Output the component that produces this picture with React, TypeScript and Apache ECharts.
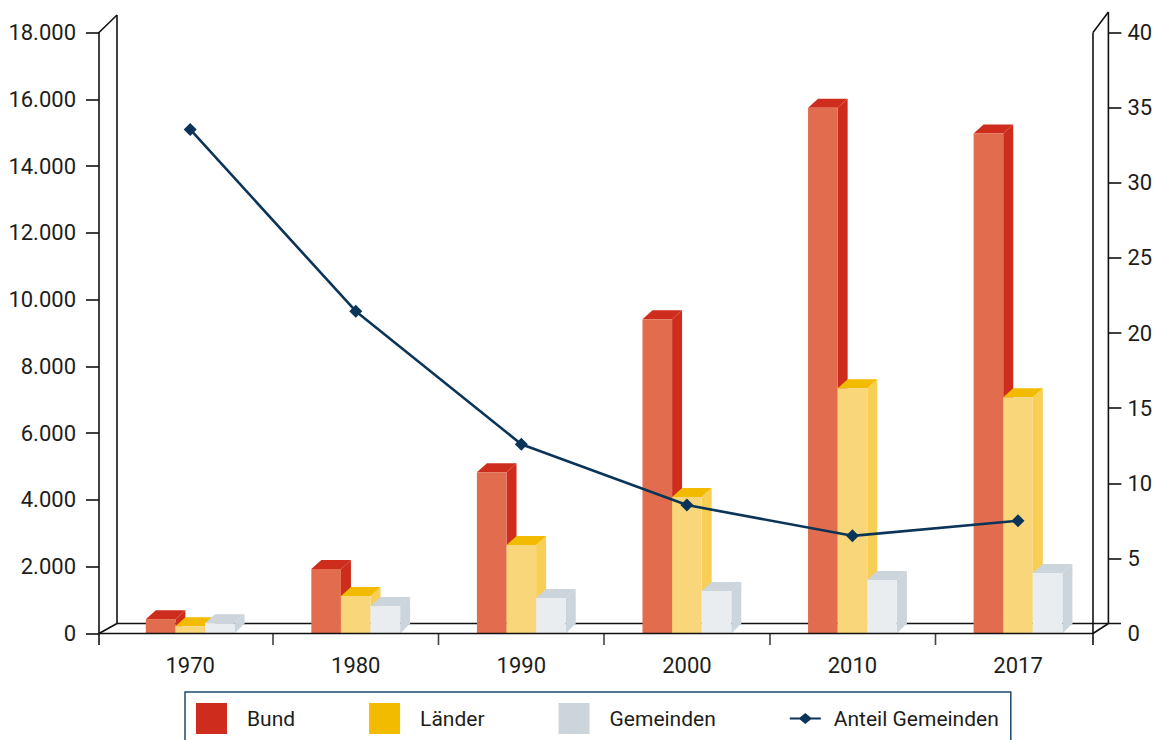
import React, { useEffect, useRef } from "react";
import * as echarts from "echarts";

const years = ["1970", "1980", "1990", "2000", "2010", "2017"];
const bund = [430, 1930, 4830, 9410, 15750, 14975];
const laender = [220, 1120, 2650, 4085, 7345, 7075];
const gemeinden = [310, 820, 1060, 1270, 1600, 1810];
const anteilGemeinden = [33.55, 21.45, 12.6, 8.55, 6.5, 7.5];

const FONT = "Roboto, sans-serif";
const TEXT = "#1d1d1b";
const NAVY = "#0b3558";
const BAR_W = 29.6;
const DEPTH_X = 10;
const DEPTH_Y = 9;

// front face, top face and side face of one extruded column
function barSeries(name: string, values: number[], slot: number, front: string, top: string, side: string) {
  return {
    name,
    type: "custom",
    coordinateSystem: "cartesian2d",
    xAxisIndex: 0,
    yAxisIndex: 0,
    z: 3 + slot,
    itemStyle: { color: top },
    encode: { x: 0, y: 1 },
    data: values.map((v, i) => [i, v]),
    renderItem: (_: any, api: any) => {
      const p = api.coord([api.value(0), api.value(1)]);
      const base = api.coord([api.value(0), 0]);
      const l = p[0] + (slot - 1.5) * BAR_W;
      const r = l + BAR_W;
      const t = p[1];
      const b = base[1];
      return {
        type: "group",
        children: [
          {
            type: "polygon",
            shape: { points: [[r, t], [r + DEPTH_X, t - DEPTH_Y], [r + DEPTH_X, b - DEPTH_Y - 1], [r, b]] },
            style: { fill: side },
          },
          {
            type: "polygon",
            shape: { points: [[l, t], [l + DEPTH_X, t - DEPTH_Y], [r + DEPTH_X, t - DEPTH_Y], [r, t]] },
            style: { fill: top },
          },
          { type: "rect", shape: { x: l, y: t, width: BAR_W, height: b - t }, style: { fill: front } },
        ],
      };
    },
  };
}

// line with a diamond in the middle, padded to a square so it is not stretched
const lineIcon =
  "path://M0 0L0 0M31 31L31 31M0 14.4H10L15.5 9.9L21 14.4H31V16.6H21L15.5 21.1L10 16.6H0Z";

function frameLine(x1: number, y1: number, x2: number, y2: number, stroke = "#111", lineWidth = 1.6, z = 1) {
  return { type: "line", z, shape: { x1, y1, x2, y2 }, style: { stroke, lineWidth } };
}

export default function App() {
  const ref = useRef<HTMLDivElement>(null);

  useEffect(() => {
    const chart = echarts.init(ref.current!, undefined, { renderer: "svg" });
    const tickXs = [99, 273, 438.5, 604, 770, 935.5, 1093];
    chart.setOption({
      animation: false,
      textStyle: { fontFamily: FONT },
      grid: { left: 107.4, width: 993.4, top: 32.5, height: 601 },
      legend: {
        left: 185,
        top: 692,
        orient: "horizontal",
        padding: [11, 12, 11, 11],
        itemGap: 74,
        itemWidth: 31,
        itemHeight: 31,
        borderColor: "#1f4b6e",
        borderWidth: 1.5,
        textStyle: { fontFamily: FONT, fontSize: 21, color: TEXT, padding: [0, 0, 0, 15] },
        data: [
          { name: "Bund", icon: "rect" },
          { name: "Länder", icon: "rect" },
          { name: "Gemeinden", icon: "rect" },
          { name: "Anteil Gemeinden", icon: lineIcon, textStyle: { padding: [0, 0, 0, 8] } },
        ],
      },
      xAxis: {
        type: "category",
        data: years,
        axisLine: { show: false },
        axisTick: { show: false },
        axisLabel: { color: TEXT, fontSize: 22, fontFamily: FONT, margin: 21 },
      },
      yAxis: [
        {
          type: "value",
          min: 0,
          max: 18000,
          interval: 2000,
          offset: 8.4,
          splitLine: { show: false },
          axisLine: { show: true, lineStyle: { color: "#111", width: 1.6 } },
          axisTick: { show: true, length: 13, lineStyle: { color: "#111", width: 1.6 } },
          axisLabel: {
            color: TEXT,
            fontSize: 22,
            fontFamily: FONT,
            margin: 23,
            formatter: (v: number) => (v === 0 ? "0" : `${v / 1000}.000`),
          },
        },
        {
          type: "value",
          position: "right",
          min: 0,
          max: 40,
          interval: 5,
          offset: 7.6,
          splitLine: { show: false },
          axisLine: { show: false },
          axisTick: {
            show: true,
            length: 13,
            customValues: [5, 10, 15, 20, 25, 30, 35, 40],
            lineStyle: { color: "#111", width: 1.6 },
          },
          axisLabel: { color: TEXT, fontSize: 22, fontFamily: FONT, margin: 19 },
        },
      ],
      graphic: [
        // back wall and floor of the box
        frameLine(117, 15, 117, 623.5),
        frameLine(99, 32.5, 117, 15),
        frameLine(1108.4, 12, 1108.4, 623.5),
        frameLine(1093, 32.5, 1108.4, 12),
        frameLine(117, 623.5, 1121, 623.5),
        frameLine(99, 633.5, 117, 623.5),
        frameLine(1093, 633.5, 1108.4, 623.5),
        // front edge of the floor and its separators
        frameLine(1093, 32.5, 1093, 645),
        frameLine(99, 633.5, 99, 645),
        frameLine(99, 633.5, 1093, 633.5, "#111", 1.6, 20),
        ...tickXs.slice(1, -1).map((x) => frameLine(x, 634, x, 645, "#444")),
      ],
      series: [
        barSeries("Bund", bund, 0, "#e26c4e", "#ce2c1c", "#ce2c1c"),
        barSeries("Länder", laender, 1, "#fad67b", "#f2bb00", "#f7cf55"),
        barSeries("Gemeinden", gemeinden, 2, "#e9edf0", "#ccd5db", "#ccd5db"),
        {
          name: "Anteil Gemeinden",
          type: "line",
          yAxisIndex: 1,
          z: 10,
          data: anteilGemeinden,
          symbol: "diamond",
          symbolSize: 13,
          itemStyle: { color: NAVY },
          lineStyle: { color: NAVY, width: 2.6 },
        },
      ],
    });
    return () => chart.dispose();
  }, []);

  return (
    <div
      ref={ref}
      style={{ position: "absolute", left: 0, top: 0, width: 1160, height: 740, overflow: "hidden", background: "#fff" }}
    />
  );
}
